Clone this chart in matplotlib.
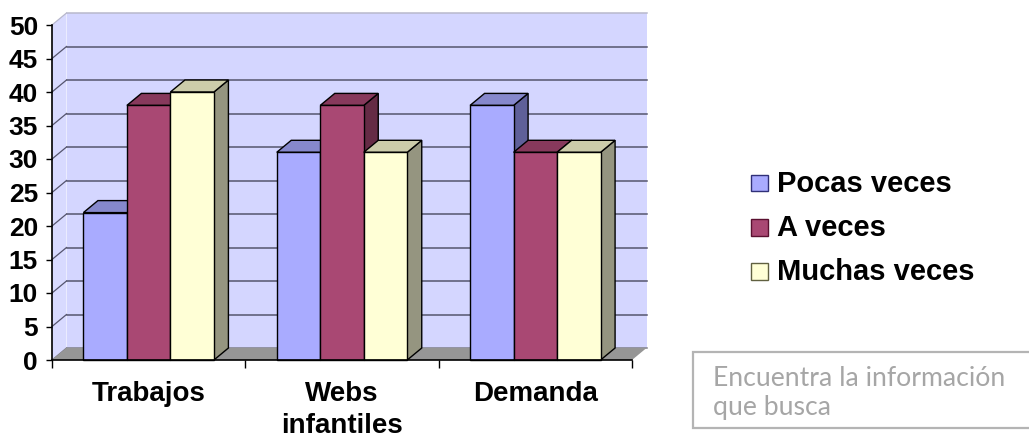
import matplotlib
matplotlib.use("Agg")
import matplotlib.pyplot as plt
from matplotlib.patches import Polygon, Rectangle

W, H = 1029, 438

categories = ["Trabajos", "Webs\ninfantiles", "Demanda"]
series_names = ["Pocas veces", "A veces", "Muchas veces"]
pocas = [22, 31, 38]
a_veces = [38, 38, 31]
muchas = [40, 31, 31]
yticks = [0, 5, 10, 15, 20, 25, 30, 35, 40, 45, 50]

# front, top, side faces for each series
FRONT = ["#A9ABFF", "#A94873", "#FFFFD6"]
TOP = ["#8688CC", "#87395C", "#CCCCAA"]
SIDE = ["#5F6099", "#652B45", "#959580"]
LEG_EDGE = ["#303078", "#5A1030", "#606040"]

BOLD = "Liberation Sans"

fig = plt.figure(figsize=(W / 100, H / 100), dpi=100)
ax = fig.add_axes([52 / W, (H - 360) / H, 580 / W, 335 / H])
ax.set_xlim(0, 3)
ax.set_ylim(0, 50)
ax.patch.set_visible(False)

# 3d depth, px converted to data units
DX = 14.5 / (580 / 3)
DY = 12 / (335 / 50)
BAR_W = 43.5 / (580 / 3)

# walls and floor
ax.add_patch(Polygon([(DX, DY), (3 + DX, DY), (3 + DX, 50 + DY), (DX, 50 + DY)],
                     fc="#D4D6FF", ec="none", clip_on=False, zorder=1))
ax.add_patch(Polygon([(0, 0), (DX, DY), (DX, 50 + DY), (0, 50)],
                     fc="#D8DAFF", ec="none", clip_on=False, zorder=1))
ax.add_patch(Polygon([(0, 0), (3, 0), (3 + DX, DY), (DX, DY)],
                     fc="#969696", ec="none", clip_on=False, zorder=1.5))

# gridlines on both walls
for v in yticks:
    c = "#B8B8CC" if v == 50 else "#55556E"
    if v == 0:
        c = "#80808A"
    ax.plot([DX, 3 + DX], [v + DY, v + DY], color=c, lw=1.1, clip_on=False, zorder=1.2)
    ax.plot([0, DX], [v, v + DY], color=c, lw=0.9, clip_on=False, zorder=1.2)

# bars, left to right so later ones cover the earlier side faces
z = 3
for i in range(len(categories)):
    for s, vals in enumerate([pocas, a_veces, muchas]):
        x0 = i + 0.5 + (s - 1.5) * BAR_W
        x1 = x0 + BAR_W
        v = vals[i]
        ax.add_patch(Polygon([(x1, 0), (x1 + DX, DY), (x1 + DX, v + DY), (x1, v)],
                             fc=SIDE[s], ec="black", lw=1, zorder=z, clip_on=False))
        ax.add_patch(Polygon([(x0, v), (x1, v), (x1 + DX, v + DY), (x0 + DX, v + DY)],
                             fc=TOP[s], ec="black", lw=1, zorder=z, clip_on=False))
        ax.bar(x0, v, width=BAR_W, align="edge", color=FRONT[s], edgecolor="black",
               lw=1, zorder=z + 0.5, clip_on=False)
        z += 1

for sp in ["top", "right"]:
    ax.spines[sp].set_visible(False)
for sp in ["left", "bottom"]:
    ax.spines[sp].set_color("black")
    ax.spines[sp].set_linewidth(1.2)
    ax.spines[sp].set_zorder(50)

ax.set_yticks(yticks)
ax.set_yticklabels([str(v) for v in yticks], fontsize=19, fontweight="bold", family=BOLD)
ax.tick_params(axis="y", length=4, width=1, pad=6)
ax.set_xticks([0, 1, 2, 3])
ax.set_xticklabels([])
ax.tick_params(axis="x", which="major", length=5.5, width=1)
ax.set_xticks([0.5, 1.5, 2.5], minor=True)
ax.set_xticklabels(categories, minor=True, fontsize=20, fontweight="bold", family=BOLD,
                   linespacing=1.32)
ax.tick_params(axis="x", which="minor", length=0, pad=15)

# legend by hand, the original has wide letter spacing
leg_ys = [183, 227, 271]
for name, y, fc, ec in zip(series_names, leg_ys, FRONT, LEG_EDGE):
    fig.add_artist(Rectangle((751 / W, 1 - (y + 8.5) / H), 16.5 / W, 17 / H, fc=fc, ec=ec, lw=1,
                             transform=fig.transFigure))
    fig.text(777 / W, 1 - (y + 1.5) / H, name, fontsize=21, fontweight="bold", family=BOLD,
             va="center", ha="left")

# text box at lower right
fig.add_artist(Rectangle((693 / W, 1 - 428 / H), 340 / W, 76.5 / H, fc="white", ec="#B4B4B4",
                         lw=1.6, transform=fig.transFigure))
fig.text(713 / W, 1 - 378 / H, "Encuentra la información", fontsize=19.2, color="#A6A6A6",
         family="Lato", va="center", ha="left")
fig.text(713 / W, 1 - 408 / H, "que busca", fontsize=19.2, color="#A6A6A6",
         family="Lato", va="center", ha="left")

fig.savefig("out.png", dpi=100)
